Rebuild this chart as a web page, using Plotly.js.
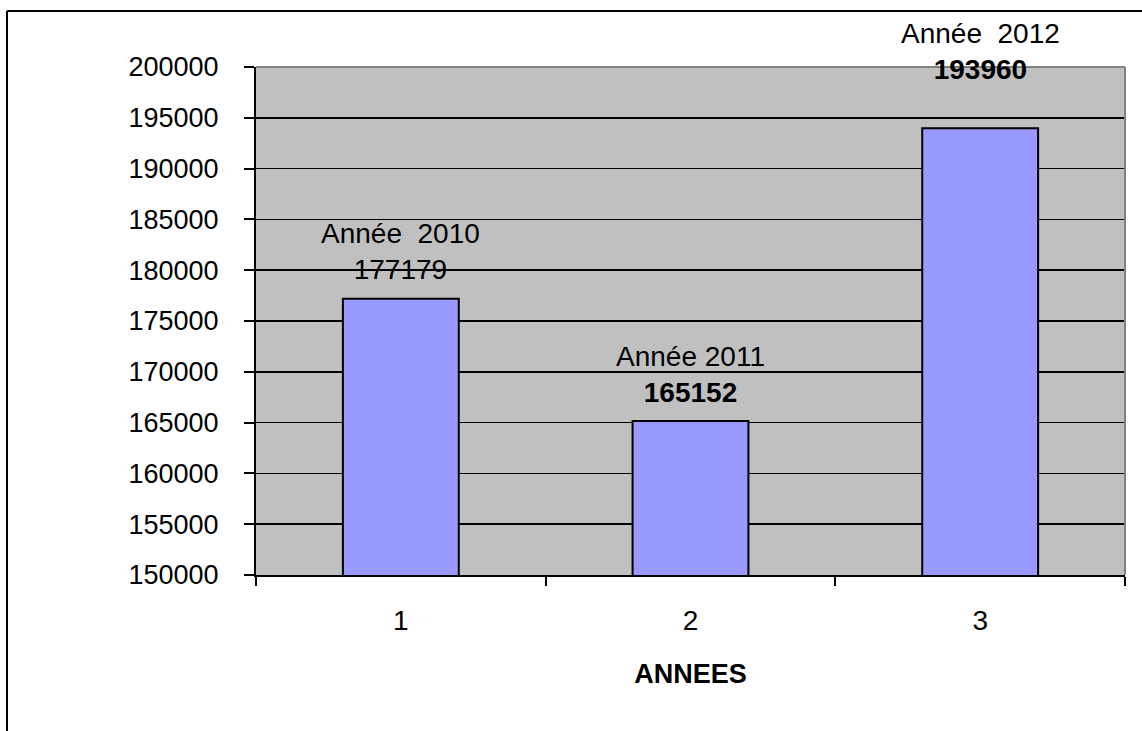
<!DOCTYPE html>
<html>
<head>
<meta charset="utf-8">
<script src="https://cdn.plot.ly/plotly-3.0.1.min.js"></script>
<style>
  html, body { margin: 0; padding: 0; background: #ffffff; }
  #chart { width: 1142px; height: 731px; }
</style>
</head>
<body>
<div id="chart"></div>
<script>
// ---- data ----
const categories = ["1", "2", "3"];
const values = [177179, 165152, 193960];
const labelYears = ["Année  2010", "Année 2011", "Année  2012"];
const valueBold = [false, true, true];
const yTickValues = [150000, 155000, 160000, 165000, 170000, 175000, 180000, 185000, 190000, 195000, 200000];

// ---- layout constants ----
const W = 1142, H = 731;
const M = { l: 256, r: 17, t: 67, b: 156 };
const plotW = W - M.l - M.r, plotH = H - M.t - M.b;
const px2x = p => (p - M.l) / plotW;
const px2y = p => (H - M.b - p) / plotH;
const labelShift = [12, 11, 41];

const FONT = "Liberation Sans, Arial, sans-serif";

const trace = {
  type: "bar",
  x: categories,
  y: values,
  width: 0.4,
  marker: { color: "#9999FF", line: { color: "#000000", width: 2 } },
  hoverinfo: "skip"
};

const annotations = categories.map((c, i) => ({
  x: i,
  y: values[i],
  xref: "x",
  yref: "y",
  yanchor: "bottom",
  yshift: labelShift[i],
  showarrow: false,
  align: "center",
  text: labelYears[i] + "<br>" + (valueBold[i] ? "<b>" + values[i] + "</b>" : String(values[i])),
  font: { family: FONT, size: 28, color: "#000000" }
}));

const shapes = [
  // plot border top/right (gray)
  { type: "line", xref: "paper", yref: "paper", x0: 0, x1: 1, y0: 1, y1: 1, line: { color: "#808080", width: 2 }, layer: "above" },
  { type: "line", xref: "paper", yref: "paper", x0: 1, x1: 1, y0: 0, y1: 1, line: { color: "#808080", width: 2 }, layer: "above" },
  // outer chart border
  { type: "line", xref: "paper", yref: "paper", x0: px2x(7), x1: px2x(7), y0: px2y(11), y1: px2y(735), line: { color: "#000000", width: 2 } },
  { type: "line", xref: "paper", yref: "paper", x0: px2x(7), x1: px2x(1145), y0: px2y(11), y1: px2y(11), line: { color: "#000000", width: 2 } }
];

const layout = {
  width: W,
  height: H,
  margin: M,
  paper_bgcolor: "#ffffff",
  plot_bgcolor: "#C0C0C0",
  showlegend: false,
  font: { family: FONT, color: "#000000" },
  bargap: 0.6,
  xaxis: {
    type: "category",
    range: [-0.5, 2.5],
    tickson: "boundaries",
    ticks: "outside",
    ticklen: 9,
    tickwidth: 2,
    tickcolor: "#000000",
    showline: true,
    linecolor: "#000000",
    linewidth: 2,
    showgrid: false,
    tickfont: { family: FONT, size: 28, color: "#000000" },
    ticklabelstandoff: 19,
    title: { text: "<b>ANNEES</b>", font: { family: FONT, size: 27, color: "#000000" }, standoff: 30 }
  },
  yaxis: {
    range: [150000, 200000],
    tickvals: yTickValues,
    ticktext: yTickValues.map(String),
    ticks: "outside",
    ticklen: 10,
    tickwidth: 2,
    tickcolor: "#000000",
    showline: true,
    linecolor: "#000000",
    linewidth: 2,
    showgrid: true,
    gridcolor: "#000000",
    gridwidth: 1.5,
    zeroline: false,
    tickfont: { family: FONT, size: 27, color: "#000000" },
    ticklabelstandoff: 20
  },
  annotations: annotations,
  shapes: shapes
};

Plotly.newPlot("chart", [trace], layout, { displayModeBar: false, staticPlot: true });
</script>
</body>
</html>
